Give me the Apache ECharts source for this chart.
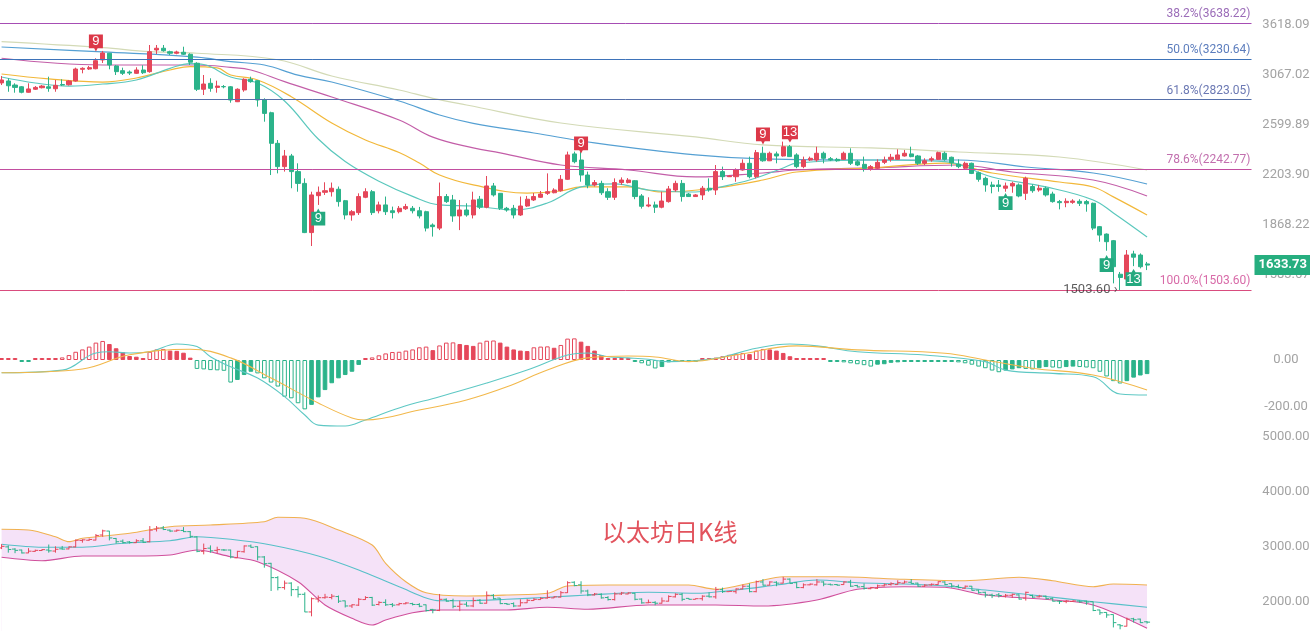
<!DOCTYPE html>
<html><head><meta charset="utf-8">
<script src="https://cdn.jsdelivr.net/npm/echarts@6/dist/echarts.min.js"></script>
<style>html,body{margin:0;padding:0;background:#fff}#c{width:1310px;height:631px}</style>
</head><body><div id="c"></div>
<script>
// ---------------- DATA ----------------
const opens  = [2983,3002,2962,2945,2892,2921,2936,2945,2926,2967,2965,3002,3120,3123,3126,3218,3290,3155,3106,3092,3079,3113,3096,3326,3345,3307,3290,3301,3279,3183,2921,2979,2939,2947,2945,2803,2914,3019,3005,2819,2703,2443,2262,2343,2225,2140,1819,2055,2078,2082,2099,2021,1928,1943,2044,2082,1955,1993,1955,1949,1968,1971,1955,1949,1865,1846,2049,2026,1922,1960,1928,2031,1978,2122,2071,1971,1971,1928,1986,2026,2044,2071,2075,2089,2169,2359,2312,2200,2129,2140,2082,2044,2146,2146,2159,2053,1986,1993,1978,2015,2094,2140,2066,2049,2060,2106,2094,2225,2188,2188,2237,2287,2188,2364,2306,2359,2343,2416,2351,2262,2312,2312,2364,2322,2317,2317,2364,2299,2279,2242,2250,2294,2317,2317,2343,2359,2343,2287,2312,2317,2364,2333,2281,2250,2287,2217,2176,2129,2129,2106,2122,2129,2071,2118,2094,2106,2066,2015,2008,2010,2017,2015,2004,1855,1810,1771,1585,1560,1695,1689,1640];
const closes = [3012,2955,2939,2892,2924,2939,2952,2930,2959,2962,3002,3123,3130,3137,3210,3293,3165,3096,3079,3082,3113,3085,3307,3345,3318,3290,3304,3279,3194,2921,2972,2930,2952,2945,2819,2921,3019,2995,2819,2697,2443,2262,2343,2225,2140,1819,2060,2078,2089,2106,2015,1928,1949,2049,2082,1943,1993,1949,1943,1971,1982,1955,1922,1846,1855,2049,2015,1922,1960,1928,2026,1978,2122,2060,1971,1960,1928,1986,2031,2049,2066,2082,2094,2169,2351,2299,2200,2129,2146,2075,2044,2146,2164,2164,2049,1984,1993,1978,2019,2101,2140,2049,2049,2060,2106,2094,2225,2188,2193,2237,2287,2188,2369,2306,2364,2343,2416,2338,2262,2312,2325,2364,2325,2312,2306,2364,2287,2274,2249,2262,2294,2312,2333,2351,2364,2338,2287,2306,2322,2369,2317,2291,2262,2287,2212,2169,2129,2118,2118,2122,2140,2053,2176,2089,2106,2060,2015,2008,2017,2019,2004,2000,1846,1804,1765,1625,1568,1689,1677,1625,1633.73];
const lows   = [2962,2897,2888,2882,2888,2914,2929,2897,2897,2952,2957,2995,3079,3113,3120,3186,3120,3062,3062,3062,3072,3072,3085,3282,3307,3271,3279,3271,3165,2904,2866,2897,2888,2930,2794,2800,2897,2985,2758,2624,2200,2212,2225,2106,2082,1816,1740,1993,2060,2049,1982,1900,1892,1928,2038,1928,1938,1928,1906,1938,1960,1938,1906,1826,1795,1834,2006,1885,1834,1917,1906,1966,1971,2049,1960,1949,1906,1922,1980,2019,2040,2060,2071,2082,2164,2287,2152,2106,2118,2060,2026,2026,2129,2140,2031,1969,1978,1941,1971,2008,2082,2015,2046,2049,2026,2082,2060,2164,2186,2152,2232,2176,2176,2299,2304,2287,2338,2335,2250,2250,2304,2299,2287,2304,2299,2312,2274,2266,2225,2232,2237,2281,2299,2312,2338,2333,2274,2274,2299,2312,2306,2262,2250,2237,2207,2152,2082,2071,2082,2082,2075,2044,2026,2075,2082,2049,2008,1964,1978,2000,1986,1949,1834,1765,1713,1538,1503.6,1555,1628,1616,1607];
const highs  = [3052,3029,2979,2952,2979,2952,2962,3045,3012,3019,3012,3137,3141,3155,3236,3315,3293,3165,3137,3108,3141,3162,3381,3381,3381,3318,3318,3362,3290,3194,3062,3029,3005,2962,2952,2930,3029,3045,3012,2835,2712,2470,2390,2359,2287,2176,2082,2118,2148,2146,2118,2026,1960,2071,2106,2094,2015,2049,1982,1986,2000,1986,1980,1955,1875,2146,2066,2060,2026,2004,2082,2053,2193,2143,2073,1980,1993,2049,2053,2073,2087,2212,2106,2200,2377,2377,2377,2225,2164,2159,2106,2176,2183,2178,2164,2066,2044,2015,2082,2122,2159,2164,2073,2066,2122,2176,2274,2262,2200,2249,2317,2338,2390,2416,2377,2377,2457,2430,2364,2338,2338,2416,2377,2335,2328,2377,2403,2312,2338,2274,2317,2338,2359,2395,2390,2416,2351,2325,2338,2377,2377,2338,2317,2299,2292,2225,2188,2152,2164,2146,2152,2140,2188,2133,2129,2118,2082,2026,2037,2031,2031,2026,2008,1859,1814,1775,1597,1717,1713,1698,1651];

// moving averages on the price panel: [candle index, value]
const maPale    = [[0,3418],[15,3351],[22,3307],[29,3290],[41,3220],[49,3052],[59,2914],[64,2835],[69,2773],[83,2613],[103,2495],[113,2430],[129,2406],[142,2374],[157,2335],[170,2237]];
const maBlue    = [[0,3359],[15,3304],[29,3248],[34,3200],[39,3165],[44,3060],[49,2992],[59,2810],[65,2683],[70,2610],[79,2528],[88,2446],[103,2351],[113,2320],[129,2312],[142,2312],[152,2259],[162,2215],[170,2136]];
const maMagenta = [[0,3236],[15,3165],[29,3165],[34,3140],[37,3113],[42,2995],[49,2847],[59,2639],[64,2494],[70,2406],[74,2367],[83,2274],[93,2237],[103,2186],[113,2215],[118,2237],[129,2252],[142,2274],[150,2222],[162,2164],[170,2053]];
const maYellow  = [[0,3072],[7,3022],[15,2991],[20,3032],[25,3113],[28,3148],[32,3134],[34,3062],[38,3012],[43,2850],[49,2613],[54,2470],[59,2370],[62,2289],[65,2200],[70,2129],[78,2073],[83,2087],[86,2115],[93,2115],[98,2080],[106,2108],[113,2164],[118,2222],[129,2252],[140,2289],[147,2215],[157,2150],[162,2115],[165,2047],[170,1928]];
const maTeal    = [[0,3042],[5,2982],[10,2952],[15,2972],[20,3012],[25,3130],[28,3180],[30,3170],[34,3042],[38,2982],[42,2810],[47,2478],[51,2300],[56,2155],[61,2050],[65,1993],[70,1986],[76,1960],[81,2006],[86,2115],[91,2136],[96,2094],[103,2080],[106,2108],[111,2164],[116,2252],[118,2289],[129,2312],[140,2299],[147,2186],[155,2115],[162,2026],[165,1941],[170,1793]];

// Fibonacci levels
const fibPct  = ['38.2%','50.0%','61.8%','78.6%','100.0%'];
const fibVals = [3638.22, 3230.64, 2823.05, 2242.77, 1503.60];

// TD sequential markers
const tdIdx  = [14, 86, 113, 117, 47, 149, 164, 168];
const tdVal  = [3404, 2430, 2503, 2519, 1915, 2016, 1642, 1568];
const tdText = ['9','9','9','13','9','9','9','13'];
const tdUp   = [true,true,true,true,false,false,false,false];

const lowIdx = 166, lowVal = 1503.60;
const lastPrice = 1633.73;

// tick labels
const mainTicks = [3618.09, 3067.02, 2599.89, 2203.90, 1868.22, 1583.67];
const macdTicks = [0, -200];
const bollTicks = [5000, 4000, 3000, 2000];

// MACD
const macdHist = [3,3,3,-3,-3,3,3,3,3,11,21,35,45,57,74,81,68,50,33,17,14,7,35,45,47,40,39,31,10,-38,-40,-43,-44,-46,-96,-85,-64,-50,-57,-78,-96,-113,-156,-163,-184,-210,-191,-159,-128,-99,-78,-64,-50,-21,5,11,20,28,34,35,40,45,54,57,42,62,74,75,68,64,60,74,82,83,74,57,45,40,38,54,57,58,52,64,91,92,78,60,40,21,7,3,3,3,-7,-14,-24,-36,-30,-10,-4,-3,-3,-3,3,5,10,16,22,26,30,25,40,47,45,40,30,16,4,4,3,3,3,-3,-6,-10,-14,-18,-22,-28,-20,-18,-12,-10,-5,-4,-4,-4,-4,-4,-5,-6,-10,-14,-20,-28,-35,-45,-52,-45,-40,-35,-38,-40,-35,-30,-32,-35,-30,-28,-30,-32,-35,-50,-70,-90,-100,-90,-75,-66,-60];
const macdDif = [[0,-54],[9,-43],[14,30],[16,35],[19,30],[22,35],[26,68],[29,57],[31,14],[34,-29],[38,-77],[42,-156],[45,-234],[47,-277],[51,-281],[54,-255],[59,-204],[65,-156],[72,-98],[78,-43],[84,21],[87,30],[90,14],[93,9],[96,3],[99,-7],[106,7],[112,50],[117,68],[121,60],[127,35],[137,21],[146,-7],[149,-43],[156,-57],[162,-71],[166,-145],[170,-149]];
const macdDea = [[0,-54],[12,-38],[19,22],[28,46],[34,9],[40,-77],[47,-183],[52,-247],[54,-255],[62,-213],[69,-170],[75,-114],[81,-43],[87,9],[93,17],[97,13],[102,-7],[109,21],[118,60],[127,43],[140,29],[146,0],[153,-35],[162,-64],[170,-128]];

// Bollinger bands
const bollUpper = [[0,3322],[4,3309],[8,3187],[10,3097],[12,3158],[19,3249],[25,3369],[31,3400],[39,3460],[41,3540],[45,3522],[50,3309],[55,3036],[57,2704],[60,2369],[63,2169],[69,2109],[75,2127],[81,2158],[84,2291],[90,2309],[96,2309],[102,2309],[106,2231],[112,2369],[116,2460],[124,2460],[134,2413],[143,2387],[151,2449],[156,2387],[162,2278],[165,2327],[170,2309]];
const bollMid   = [[0,3049],[6,2995],[12,2995],[18,3067],[25,3115],[29,3187],[34,3140],[40,3036],[47,2836],[53,2582],[59,2278],[65,2024],[69,2024],[75,2049],[81,2085],[87,2127],[96,2176],[103,2158],[109,2218],[115,2309],[121,2400],[127,2351],[134,2327],[140,2291],[146,2218],[153,2127],[162,2005],[170,1904]];
const bollLower = [[0,2813],[6,2751],[12,2836],[18,2836],[25,2855],[29,2945],[34,2824],[38,2733],[44,2369],[48,1946],[52,1704],[55,1582],[57,1673],[61,1806],[65,1855],[75,1855],[81,1904],[87,1868],[96,1946],[106,1946],[113,1927],[121,2036],[127,2231],[134,2278],[140,2267],[146,2127],[156,2036],[162,1946],[170,1522]];

const titleText = '以太坊日K线';
const N_CAT = 186;
const categories = [];
for (let i = 0; i < N_CAT; i++) categories.push('D' + (i + 1));

// ---------------- STYLE ----------------
const RED = '#e5475a', GREEN = '#2bb38a';
const fibLineColors = ['#a64db4','#3e73b9','#5670aa','#c24ea0','#d94c7e'];
const fibTextColors = ['#9b6cb8','#5c7dbd','#6b78b3','#c26fae','#d86aa8'];
const LBL = {color:'#a3a3a3', fontSize:13, fontFamily:'Roboto', align:'center', margin:34.5};
const GL = -1.8, GW = 1253.3;

const chart = echarts.init(document.getElementById('c'), null, {renderer:'canvas'});

const candleData = opens.map((o,i)=>[o, closes[i], lows[i], highs[i]]);
const ohlcData = opens.map((o,i)=>[i, o, closes[i], lows[i], highs[i]]);

const histData = macdHist.map((h,i)=>{
  const prev = i>0 ? macdHist[i-1] : 0;
  const c = h >= 0 ? RED : GREEN;
  const hollow = i===0 || (Math.sign(h)===Math.sign(prev) && Math.abs(h) >= Math.abs(prev)) || Math.sign(h)!==Math.sign(prev);
  return {value:h, itemStyle:{color: hollow ? '#ffffff' : c, borderColor:c, borderWidth:1}};
});

const fibMarks = fibVals.map((v,k)=>({
  yAxis: v,
  lineStyle:{color:fibLineColors[k], width:1, type:'solid'},
  label:{show:true, position:'insideEndTop', distance:[1,3], formatter: fibPct[k] + '(' + v.toFixed(2) + ')', color:fibTextColors[k], fontSize:12, fontFamily:'Roboto'}
}));
fibMarks.push({
  yAxis: lastPrice,
  lineStyle:{color:'rgba(0,0,0,0)', width:0},
  label:{show:true, position:'end', distance:3, formatter: lastPrice.toFixed(2), color:'#fff', backgroundColor:'#26ae7f', padding:[4,4,3,4], fontSize:13, fontWeight:'bold', fontFamily:'Roboto'}
});

const RED_PIN = 'path://M0,0H12V13H7.5L6,16L4.5,13H0Z';
const GREEN_PIN = 'path://M0,3H4.5L6,0L7.5,3H12V16H0Z';
const tdData = tdIdx.map((ix,k)=>({
  value:[ix, tdVal[k]],
  symbol: tdUp[k] ? RED_PIN : GREEN_PIN,
  symbolSize: tdText[k].length > 1 ? [16,17] : [14,17],
  itemStyle:{color: tdUp[k] ? '#dc3848' : '#24a97f', opacity:1},
  label:{show:true, position:'inside', formatter: tdText[k], color:'#fff', fontSize:13, fontFamily:'Arial', offset: tdUp[k] ? [0,-1.5] : [0,1.5]}
}));

function maLine(data, color, width){
  return {type:'line', xAxisIndex:0, yAxisIndex:0, data, smooth:0.4, showSymbol:false, symbol:'none',
    lineStyle:{color, width: width || 1.2}, silent:true, z:3};
}

const option = {
  animation:false,
  backgroundColor:'#ffffff',
  title:{text:titleText, left:597, top:515, textStyle:{color:'#e2535d', fontSize:24, fontWeight:'normal', fontFamily:'Noto Sans CJK SC'}},
  grid:[
    {left:GL, width:GW, top:0, height:300, outerBoundsMode:'none', containLabel:false},
    {left:GL, width:GW, top:313, height:141, outerBoundsMode:'none', containLabel:false},
    {left:GL, width:GW, top:437, height:220, outerBoundsMode:'none', containLabel:false}
  ],
  xAxis:[0,1,2].map(g=>({type:'category', gridIndex:g, data:categories, boundaryGap:true,
    axisLine:{show:false}, axisTick:{show:false}, axisLabel:{show:false}, splitLine:{show:false}})),
  yAxis:[
    {type:'log', gridIndex:0, position:'right', min:1455.7, max:3923.1,
      axisLine:{show:false}, axisTick:{show:false}, splitLine:{show:false},
      axisLabel:Object.assign({customValues:mainTicks, formatter:v=>Number(v).toFixed(2)}, LBL)},
    {type:'value', gridIndex:1, position:'right', min:-400, max:200,
      axisLine:{show:false}, axisTick:{show:false}, splitLine:{show:false},
      axisLabel:Object.assign({customValues:macdTicks, formatter:v=>Number(v).toFixed(2)}, LBL)},
    {type:'value', gridIndex:2, position:'right', min:1000, max:5000,
      axisLine:{show:false}, axisTick:{show:false}, splitLine:{show:false},
      axisLabel:Object.assign({customValues:bollTicks, formatter:v=>Number(v).toFixed(2)}, LBL)}
  ],
  series:[
    {type:'candlestick', xAxisIndex:0, yAxisIndex:0, data:candleData, barWidth:4.6, z:4,
      itemStyle:{color:RED, color0:GREEN, borderColor:RED, borderColor0:GREEN, borderWidth:1},
      markLine:{silent:true, symbol:['none','none'], animation:false, data:fibMarks}},
    maLine(maPale, '#d3dab6'),
    maLine(maBlue, '#55a0d3'),
    maLine(maMagenta, '#c35ea8'),
    maLine(maYellow, '#f2b83a'),
    maLine(maTeal, '#5bc8bd'),
    {type:'scatter', xAxisIndex:0, yAxisIndex:0, data:tdData, z:6, silent:true, itemStyle:{opacity:1}},
    {type:'scatter', xAxisIndex:0, yAxisIndex:0, data:[[lowIdx, lowVal]], symbolSize:1, itemStyle:{color:'rgba(0,0,0,0)'}, z:6, silent:true,
      label:{show:true, position:'left', distance:2, formatter: lowVal.toFixed(2) + ' ›', color:'#333', fontSize:13, fontFamily:'Roboto'}},
    // MACD
    {type:'bar', xAxisIndex:1, yAxisIndex:1, data:histData, barWidth:4.6, barMinHeight:2, silent:true},
    {type:'line', xAxisIndex:1, yAxisIndex:1, data:macdDif, smooth:0.4, showSymbol:false, symbol:'none', lineStyle:{color:'#5ec8c4', width:1.1}, silent:true, z:3},
    {type:'line', xAxisIndex:1, yAxisIndex:1, data:macdDea, smooth:0.4, showSymbol:false, symbol:'none', lineStyle:{color:'#f2b84b', width:1.1}, silent:true, z:3},
    // Bollinger
    {type:'line', xAxisIndex:2, yAxisIndex:2, data:bollUpper, smooth:0.3, showSymbol:false, symbol:'none',
      lineStyle:{color:'#f0b150', width:1.1}, areaStyle:{color:'#f5e2f8', origin:'start', opacity:1}, silent:true, z:1},
    {type:'line', xAxisIndex:2, yAxisIndex:2, data:bollLower, smooth:0.3, showSymbol:false, symbol:'none',
      lineStyle:{color:'#d0509c', width:1.1}, areaStyle:{color:'#ffffff', origin:'start', opacity:1}, silent:true, z:2},
    {type:'line', xAxisIndex:2, yAxisIndex:2, data:bollMid, smooth:0.3, showSymbol:false, symbol:'none',
      lineStyle:{color:'#56c0c8', width:1.1}, silent:true, z:3},
    {type:'custom', xAxisIndex:2, yAxisIndex:2, data:ohlcData, z:4, silent:true,
      encode:{x:0, y:[1,2,3,4]},
      renderItem:(params, api)=>{
        const ix = api.value(0), o = api.value(1), c = api.value(2), l = api.value(3), h = api.value(4);
        const po = api.coord([ix,o]), pc = api.coord([ix,c]), pl = api.coord([ix,l]), ph = api.coord([ix,h]);
        const col = c >= o ? RED : GREEN;
        const st = {stroke:col, lineWidth:1};
        return {type:'group', children:[
          {type:'line', shape:{x1:pl[0], y1:pl[1], x2:ph[0], y2:ph[1]}, style:st},
          {type:'line', shape:{x1:po[0]-3, y1:po[1], x2:po[0], y2:po[1]}, style:st},
          {type:'line', shape:{x1:pc[0], y1:pc[1], x2:pc[0]+3, y2:pc[1]}, style:st}
        ]};
      }}
  ]
};
chart.setOption(option);
</script>
</body></html>
